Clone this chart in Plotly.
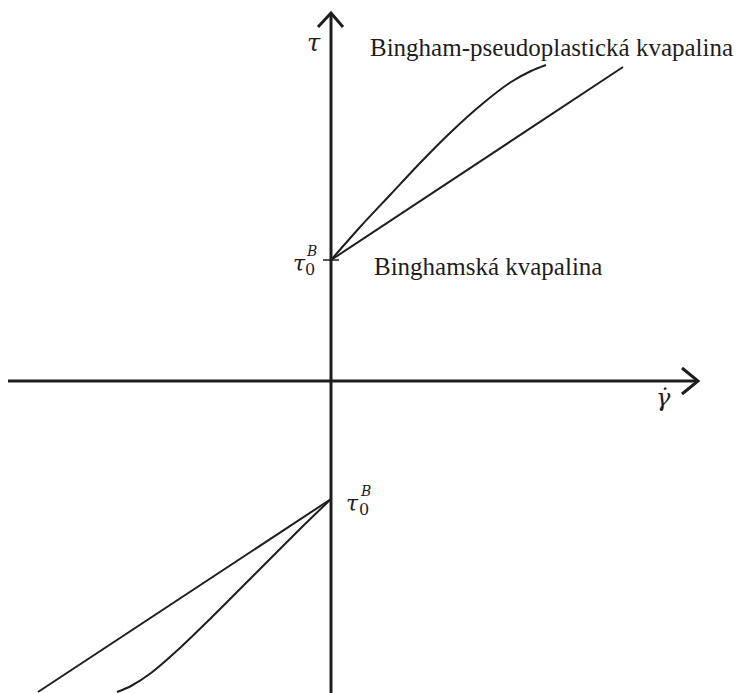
import plotly.graph_objects as go

# Shear rate (gamma-dot) and shear stress (tau), arbitrary schematic units
gamma_bingham_pos = [0, 292]
tau_bingham_pos = [121, 314]
gamma_pseudo_pos = [0, 30, 60, 90, 120, 150, 180, 200, 215]
tau_pseudo_pos = [121, 155, 187, 219, 249, 276, 299, 310, 316]

gamma_bingham_neg = [0, -293]
tau_bingham_neg = [-118, -311]
gamma_pseudo_neg = [0, -30, -60, -90, -120, -150, -180, -200, -214]
tau_pseudo_neg = [-118, -147, -177, -207, -237, -266, -292, -305, -311]

tau0_pos = 121
tau0_neg = -118

X_RANGE = [-331, 407]
Y_RANGE = [-312, 381]
INK = "#1e1e1e"
SERIF = "Times New Roman, Liberation Serif, serif"
MATH = "DejaVu Serif, serif"

fig = go.Figure()

for gx, ty in [
    (gamma_bingham_pos, tau_bingham_pos),
    (gamma_pseudo_pos, tau_pseudo_pos),
    (gamma_bingham_neg, tau_bingham_neg),
    (gamma_pseudo_neg, tau_pseudo_neg),
]:
    fig.add_trace(go.Scatter(x=gx, y=ty, mode="lines",
                             line=dict(color=INK, width=2, shape="spline",
                                       smoothing=0.8),
                             hoverinfo="skip", showlegend=False))

# Coordinate axes with open arrowheads
axis_w = 3
x_end, y_end = 367, 368
shapes = [
    dict(type="line", x0=-323, x1=x_end, y0=0, y1=0,
         line=dict(color=INK, width=axis_w)),
    dict(type="line", x0=0, x1=0, y0=Y_RANGE[0], y1=y_end,
         line=dict(color=INK, width=axis_w)),
    dict(type="path", path=f"M {x_end-16},13 L {x_end},0 L {x_end-16},-13",
         line=dict(color=INK, width=axis_w)),
    dict(type="path", path=f"M -13,{y_end-14} L 0,{y_end} L 12,{y_end-14}",
         line=dict(color=INK, width=axis_w)),
    # tick mark at the yield stress
    dict(type="line", x0=-8, x1=8, y0=tau0_pos, y1=tau0_pos,
         line=dict(color=INK, width=1.5)),
]
for s in shapes:
    s["xref"] = "x"
    s["yref"] = "y"
fig.update_layout(shapes=shapes)


def label(x, y, text, size, italic=False, family=SERIF):
    fig.add_annotation(x=x, y=y, xref="x", yref="y", text=text,
                       showarrow=False,
                       font=dict(family=family, size=size, color=INK,
                                 style="italic" if italic else "normal"))


label(-17, 338, "τ", 24, italic=True, family=MATH)
label(220, 334, "Bingham-pseudoplastická kvapalina", 25)
label(157, 115, "Binghamská kvapalina", 25)

# tau_0^B labels (stacked sub/superscript)
label(-32, tau0_pos - 3, "τ", 22, italic=True, family=MATH)
label(-21, tau0_pos - 9, "0", 16, family=MATH)
label(-20, tau0_pos + 9, "B", 14, italic=True, family=MATH)
label(21, tau0_neg - 4, "τ", 22, italic=True, family=MATH)
label(33, tau0_neg - 10, "0", 16, family=MATH)
label(34, tau0_neg + 8, "B", 14, italic=True, family=MATH)

# gamma-dot label
label(332, -17, "γ̇", 24, italic=True, family=MATH)

fig.update_xaxes(range=X_RANGE, visible=False, fixedrange=True)
fig.update_yaxes(range=Y_RANGE, visible=False, fixedrange=True)
fig.update_layout(width=738, height=693,
                  margin=dict(l=0, r=0, t=0, b=0),
                  paper_bgcolor="white", plot_bgcolor="white")

fig.write_html("out.html")
